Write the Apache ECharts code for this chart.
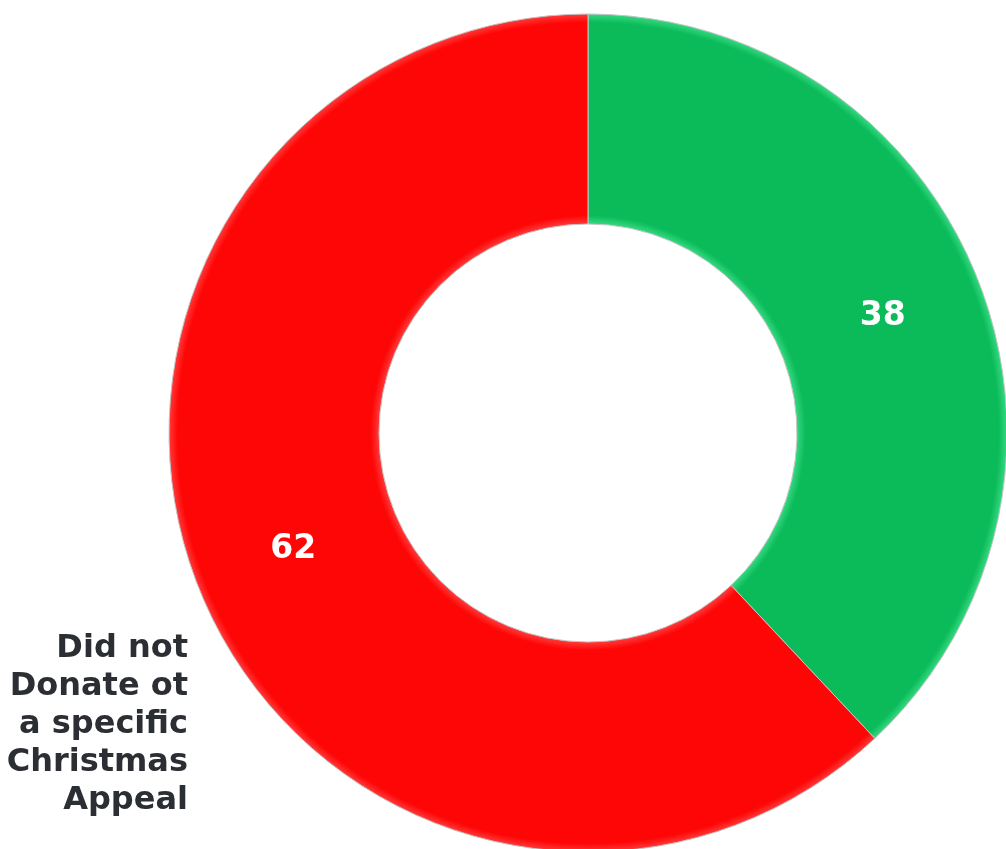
<!DOCTYPE html>
<html>
<head>
<meta charset="utf-8">
<script src="https://cdn.jsdelivr.net/npm/echarts@6/dist/echarts.min.js"></script>
<style>
  html, body { margin: 0; padding: 0; background: #fff; }
  #chart { width: 1006px; height: 849px; }
</style>
</head>
<body>
<div id="chart"></div>
<script>
var categories = ["Donated to a specific Christmas Appeal", "Did not Donate ot a specific Christmas Appeal"];
var values = [38, 62];
var baseColors = ["#0bbb5a", "#ff0606"];
var rimColors = ["#35d880", "#ff3a3a"];

var cx = 588, cy = 433, rIn = 209, rOut = 419;

function shade(i) {
  var a = rIn / rOut;
  return {
    type: "radial", x: cx, y: cy, r: rOut, global: true,
    colorStops: [
      { offset: a, color: rimColors[i] },
      { offset: a + 0.02, color: baseColors[i] },
      { offset: 0.98, color: baseColors[i] },
      { offset: 1, color: rimColors[i] }
    ]
  };
}

var pieData = categories.map(function (name, i) {
  return { name: name, value: values[i], itemStyle: { color: shade(i) } };
});

var nameData = categories.map(function (name, i) {
  return {
    name: name,
    value: values[i],
    label: { show: i === 1 }
  };
});

var chart = echarts.init(document.getElementById("chart"));
chart.setOption({
  animation: false,
  series: [
    {
      type: "pie",
      center: [cx, cy],
      radius: [rIn, rOut],
      startAngle: 90,
      clockwise: true,
      itemStyle: { borderColor: "#c4c4c4", borderWidth: 1 },
      label: {
        show: true,
        position: "inside",
        formatter: "{c}",
        color: "#fff",
        fontFamily: "DejaVu Sans",
        fontWeight: "bold",
        fontSize: 33
      },
      labelLine: { show: false },
      emphasis: { disabled: true },
      data: pieData
    },
    {
      type: "pie",
      silent: true,
      center: [cx, cy],
      radius: [rIn, rOut],
      startAngle: 90,
      clockwise: true,
      itemStyle: { color: "rgba(0,0,0,0)" },
      label: {
        position: "outside",
        formatter: function (p) {
          return p.name === categories[1]
            ? "Did not\nDonate ot\na specific\nChristmas\nAppeal"
            : p.name;
        },
        overflow: "none",
        color: "#2b2e33",
        fontFamily: "DejaVu Sans",
        fontWeight: "bold",
        fontSize: 32,
        lineHeight: 38,
        align: "right"
      },
      labelLine: { show: false },
      labelLayout: function (params) {
        if (params.dataIndex === 1) {
          return { x: 188, y: 725, align: "right", verticalAlign: "middle" };
        }
        return {};
      },
      emphasis: { disabled: true },
      data: nameData
    }
  ]
});
</script>
</body>
</html>
